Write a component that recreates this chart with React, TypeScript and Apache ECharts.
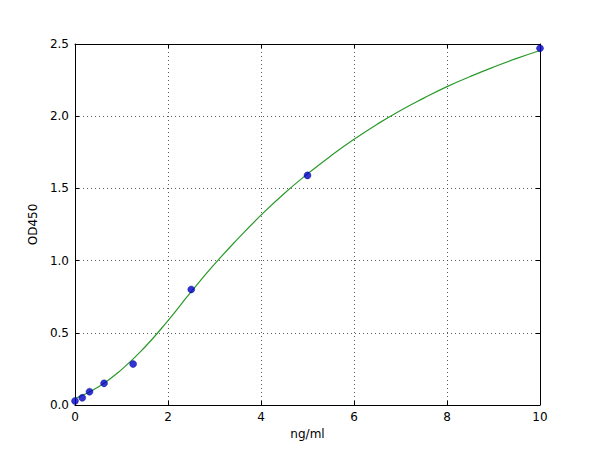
import { useEffect, useRef } from "react";
import * as echarts from "echarts";

// measured standards (ng/ml, OD450)
const stdConc = [0, 0.156, 0.3125, 0.625, 1.25, 2.5, 5, 10];
const stdOD = [0.028, 0.05, 0.092, 0.15, 0.284, 0.8, 1.59, 2.47];

// fitted curve
const fitConc = [0, 0.5, 1, 1.5, 2, 2.5, 3, 3.5, 4, 4.5, 5, 5.5, 6, 6.5, 7, 7.5, 8, 8.5, 9, 9.5, 10];
const fitOD = [0.045, 0.125, 0.245, 0.4, 0.585, 0.785, 0.975, 1.15, 1.315, 1.465, 1.6, 1.725, 1.84, 1.945, 2.04, 2.125, 2.205, 2.275, 2.34, 2.4, 2.455];

const xTicks = [0, 2, 4, 6, 8, 10];
const yTicks = [0, 0.5, 1.0, 1.5, 2.0, 2.5];

const FONT = "DejaVu Sans";

export default function App() {
  const ref = useRef<HTMLDivElement>(null);

  useEffect(() => {
    if (!ref.current) return;
    const chart = echarts.init(ref.current, undefined, { renderer: "svg" });

    const frame = { show: true, onZero: false, lineStyle: { color: "#000", width: 1 } };
    const gridLine = { show: true, lineStyle: { color: "#333", type: [1, 3] as number[], width: 0.8 } };
    const ticks = { show: true, inside: true, length: 4, lineStyle: { color: "#000" } };
    const label = { color: "#000", fontFamily: FONT, fontSize: 12 };

    chart.setOption({
      animation: false,
      backgroundColor: "#fff",
      grid: { left: 75, right: 60, top: 44, bottom: 45, containLabel: false },
      xAxis: [
        {
          type: "value",
          min: xTicks[0],
          max: xTicks[xTicks.length - 1],
          interval: 2,
          name: "ng/ml",
          nameLocation: "middle",
          nameGap: 23,
          nameTextStyle: { ...label },
          axisLine: frame,
          axisTick: ticks,
          axisLabel: { ...label, margin: 6 },
          splitLine: gridLine,
        },
        {
          type: "value",
          position: "top",
          min: 0,
          max: 10,
          interval: 2,
          axisLine: frame,
          axisTick: ticks,
          axisLabel: { show: false },
          splitLine: { show: false },
        },
      ],
      yAxis: [
        {
          type: "value",
          min: yTicks[0],
          max: yTicks[yTicks.length - 1],
          interval: 0.5,
          name: "OD450",
          nameLocation: "middle",
          nameGap: 28,
          nameTextStyle: { ...label },
          axisLine: frame,
          axisTick: ticks,
          axisLabel: { ...label, margin: 6, formatter: (v: number) => v.toFixed(1) },
          splitLine: gridLine,
        },
        {
          type: "value",
          position: "right",
          min: 0,
          max: 2.5,
          interval: 0.5,
          axisLine: frame,
          axisTick: ticks,
          axisLabel: { show: false },
          splitLine: { show: false },
        },
      ],
      series: [
        {
          type: "line",
          data: fitConc.map((x, i) => [x, fitOD[i]]),
          smooth: 0.5,
          showSymbol: false,
          lineStyle: { color: "#2a9a2a", width: 1.2 },
          z: 2,
        },
        {
          type: "scatter",
          data: stdConc.map((x, i) => [x, stdOD[i]]),
          symbolSize: 7,
          itemStyle: { color: "#0000c8", borderColor: "#00008b", borderWidth: 0.5 },
          z: 3,
        },
      ],
    });

    return () => chart.dispose();
  }, []);

  return (
    <div style={{ margin: -8 }}>
      <div ref={ref} style={{ width: 600, height: 450 }} />
    </div>
  );
}
